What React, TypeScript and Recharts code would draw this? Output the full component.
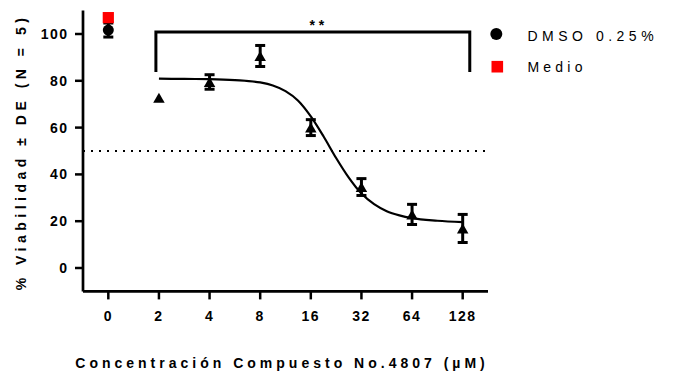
import React from 'react';
import {
  ComposedChart,
  XAxis,
  YAxis,
  Line,
  Scatter,
  ErrorBar,
  ReferenceLine,
  ReferenceDot,
  Legend,
  Label,
} from 'recharts';

// ---- tick labels / categories ----
const xTickLabels = ['0', '2', '4', '8', '16', '32', '64', '128'];
const xTickPositions = [0, 1, 2, 3, 4, 5, 6, 7];
const yTicks = [0, 20, 40, 60, 80, 100];

// ---- compound 4807 (triangles, mean ± SD) ----
const compoundX = [1, 2, 3, 4, 5, 6, 7];
const compoundMean = [72.8, 79.5, 90.6, 60.0, 34.6, 22.9, 16.9];
const compoundSD = [0, 3.1, 4.5, 3.4, 3.6, 4.3, 6.0];

// ---- controls ----
const dmsoX = [0];
const dmsoMean = [101.7];
const dmsoSD = [3];
const medioX = [0];
const medioMean = [107];

// ---- fitted curve ----
const fitX = [1, 1.5, 2, 2.5, 3, 3.25, 3.5, 3.75, 4, 4.25, 4.5, 4.75, 5, 5.25, 5.5, 5.75, 6, 6.5, 7];
const fitY = [80.9, 80.8, 80.7, 80.3, 79.3, 78.0, 75.6, 71.5, 64.8, 56.3, 47.0, 38.6, 31.8, 27.3, 24.3, 22.5, 21.3, 20.2, 19.6];

// ---- annotations ----
const thresholdY = 50;
const bracketX = [0.94, 7.14];
const bracketY = [83.8, 100.9];
const bracketText = '**';

const legendLabels = ['DMSO 0.25%', 'Medio'];
const xTitle = 'Concentración Compuesto No.4807 (µM)';
const yTitle = '% Viabilidad ± DE (N = 5)';

const FONT = "'Liberation Sans', Arial, Helvetica, sans-serif";

const compoundData = compoundX.map((x, i) => ({ x, y: compoundMean[i], err: compoundSD[i] }));
const dmsoData = dmsoX.map((x, i) => ({ x, y: dmsoMean[i], err: dmsoSD[i] }));
const medioData = medioX.map((x, i) => ({ x, y: medioMean[i] }));
const fitData = fitX.map((x, i) => ({ x, y: fitY[i] }));
const bracketData = [
  { x: bracketX[0], y: bracketY[0] },
  { x: bracketX[0], y: bracketY[1] },
  { x: bracketX[1], y: bracketY[1] },
  { x: bracketX[1], y: bracketY[0] },
];

const Triangle = (p: any) => {
  const { cx, cy } = p;
  if (cx == null || cy == null) return null;
  return <polygon points={`${cx},${cy - 5} ${cx - 5.75},${cy + 5} ${cx + 5.75},${cy + 5}`} fill="#000" />;
};
const Dot = (p: any) => {
  const { cx, cy } = p;
  if (cx == null || cy == null) return null;
  return <circle cx={cx} cy={cy} r={5.5} fill="#000" />;
};
const Square = (p: any) => {
  const { cx, cy } = p;
  if (cx == null || cy == null) return null;
  return <rect x={cx - 5.6} y={cy - 5.6} width={11.2} height={11.2} fill="#ff0000" />;
};

const tickStyle = { fill: '#000', fontSize: 14, fontWeight: 'bold', fontFamily: FONT, letterSpacing: 1.5 } as any;

export default function App() {
  return (
    <div style={{ position: 'absolute', left: 0, top: 0, width: 673, height: 376, background: '#fff' }}>
      <ComposedChart width={673} height={376} margin={{ top: 10.6, right: 185, bottom: 0, left: 0 }}>
        <XAxis
          type="number"
          dataKey="x"
          domain={[-0.5, 7.5]}
          allowDataOverflow
          ticks={xTickPositions}
          interval={0}
          tickFormatter={(v: number) => xTickLabels[v]}
          height={84.6}
          tickSize={8}
          tickMargin={12}
          axisLine={{ stroke: '#000', strokeWidth: 2.7 }}
          tickLine={{ stroke: '#000', strokeWidth: 2.5 }}
          tick={tickStyle}
        >
          <Label
            content={() => (
              <text
                x={282}
                y={368}
                textAnchor="middle"
                fontFamily={FONT}
                fontWeight="bold"
                fontSize={14}
                letterSpacing={4}
                fill="#000"
              >
                {xTitle}
              </text>
            )}
          />
        </XAxis>
        <YAxis
          type="number"
          dataKey="y"
          domain={[-10, 110]}
          allowDataOverflow
          ticks={yTicks}
          interval={0}
          width={83}
          tickSize={8}
          tickMargin={6.5}
          axisLine={{ stroke: '#000', strokeWidth: 2.7 }}
          tickLine={{ stroke: '#000', strokeWidth: 2.5 }}
          tick={tickStyle}
        >
          <Label
            content={() => (
              <text
                transform="translate(21,152) rotate(-90)"
                textAnchor="middle"
                dominantBaseline="central"
                fontFamily={FONT}
                fontWeight="bold"
                fontSize={14}
                letterSpacing={4.5}
                fill="#000"
              >
                {yTitle}
              </text>
            )}
          />
        </YAxis>

        <ReferenceLine y={thresholdY} stroke="#000" strokeWidth={2} strokeDasharray="2 6" />

        <Line
          data={bracketData}
          dataKey="y"
          type="linear"
          stroke="#000"
          strokeWidth={3}
          dot={false}
          activeDot={false}
          isAnimationActive={false}
          legendType="none"
        />
        <ReferenceDot
          x={(bracketX[0] + bracketX[1]) / 2}
          y={bracketY[1]}
          r={0}
          fill="none"
          stroke="none"
          label={
            <Label
              content={(p: any) => {
                const vb = p.viewBox || {};
                const cx = (vb.x ?? 0) + (vb.width ?? 0) / 2;
                const cy = vb.y ?? 0;
                return (
                  <text
                    x={cx + 6}
                    y={cy - 2}
                    textAnchor="middle"
                    fontFamily={FONT}
                    fontWeight="bold"
                    fontSize={14}
                    letterSpacing={4}
                    fill="#000"
                  >
                    {bracketText}
                  </text>
                );
              }}
            />
          }
        />

        <Line
          data={fitData}
          dataKey="y"
          type="monotone"
          stroke="#000"
          strokeWidth={2.2}
          dot={false}
          activeDot={false}
          isAnimationActive={false}
          legendType="none"
        />

        <Scatter data={medioData} dataKey="y" shape={Square} isAnimationActive={false} />
        <Scatter data={dmsoData} dataKey="y" shape={Dot} isAnimationActive={false}>
          <ErrorBar dataKey="err" direction="y" width={5} strokeWidth={3} stroke="#000" />
        </Scatter>
        <Scatter data={compoundData} dataKey="y" shape={Triangle} isAnimationActive={false}>
          <ErrorBar dataKey="err" direction="y" width={5} strokeWidth={3} stroke="#000" />
        </Scatter>

        <Legend
          layout="horizontal"
          verticalAlign="middle"
          align="center"
          wrapperStyle={{ position: 'absolute', left: 480, top: 15, width: 190, height: 70 }}
          content={() => (
            <svg width={190} height={70} style={{ display: 'block' }}>
              <circle cx={16.3} cy={19} r={6} fill="#000" />
              <text x={47.5} y={26.3} fontFamily={FONT} fontSize={14} letterSpacing={4.5} fill="#000">
                {legendLabels[0]}
              </text>
              <rect x={11.5} y={45.9} width={11.6} height={11.6} fill="#ff0000" />
              <text x={47.5} y={57} fontFamily={FONT} fontSize={14} letterSpacing={4.2} fill="#000">
                {legendLabels[1]}
              </text>
            </svg>
          )}
        />
      </ComposedChart>
    </div>
  );
}
